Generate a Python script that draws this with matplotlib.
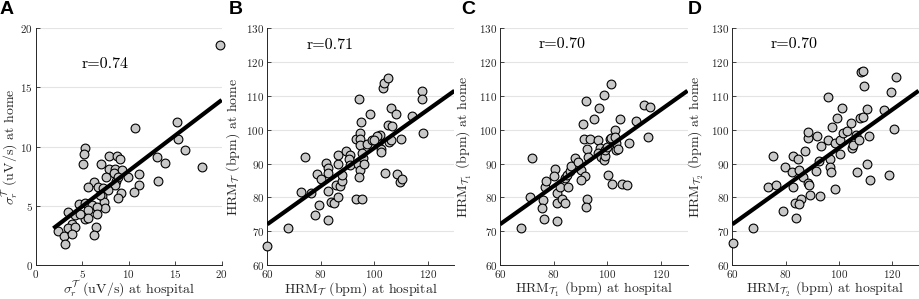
import matplotlib
matplotlib.use("Agg")
import matplotlib.pyplot as plt
import numpy as np

plt.rcParams["font.family"] = "cmr10"
plt.rcParams["mathtext.fontset"] = "cm"
plt.rcParams["axes.unicode_minus"] = False
plt.rcParams["axes.formatter.use_mathtext"] = True

# Panel A: sigma_r^T (uV/s), hospital vs home
a_hosp = [19.8, 10.7, 15.2, 15.3, 16.1, 17.85, 13.0, 13.9, 13.15, 11.1, 11.1, 10.6, 9.9,
          5.3, 5.15, 5.1, 7.0, 7.9, 8.7, 9.05, 7.9, 8.5, 9.25, 8.4, 7.6, 8.6, 8.9, 8.5,
          9.15, 8.9, 6.3, 6.7, 5.6, 7.25, 7.75, 7.15, 7.35, 7.5, 6.95, 4.65, 5.25, 6.0,
          5.65, 6.55, 6.55, 5.25, 5.65, 3.45, 4.25, 4.75, 3.85, 3.5, 4.25, 2.35, 3.0,
          3.15, 3.95, 6.5, 6.3]
a_home = [18.6, 11.6, 12.05, 10.65, 9.7, 8.3, 9.15, 8.6, 7.1, 7.65, 6.75, 6.2, 7.45,
          9.9, 9.35, 8.55, 8.55, 9.25, 9.2, 8.95, 8.1, 8.15, 8.0, 7.75, 7.4, 7.1, 7.4, 6.75,
          6.05, 5.7, 7.0, 6.55, 6.55, 6.5, 6.3, 5.85, 5.35, 4.8, 5.95, 5.15, 5.2, 5.05,
          4.65, 4.9, 4.35, 3.9, 3.95, 4.5, 4.25, 4.35, 3.5, 3.1, 3.25, 2.9, 2.45,
          1.75, 2.6, 3.25, 2.55]

# Panel B: HRM_T (bpm)
b_hosp = [60.0, 67.9, 72.6, 76.3, 74.1, 77.8, 79.5, 78.6, 80.0, 82.0, 82.8, 82.8, 82.8,
          82.7, 83.7, 84.9, 85.7, 86.3, 86.3, 86.6, 87.2, 87.8, 87.8, 89.3, 90.9, 90.6,
          90.9, 93.0, 95.5, 93.0, 94.4, 94.7, 94.7, 94.7, 94.1, 94.7, 94.3, 95.1, 95.7,
          96.3, 95.3, 98.4, 97.4, 99.0, 101.5, 102.3, 102.4, 102.7, 103.3, 103.7, 105.3,
          104.0, 105.3, 106.3, 106.5, 105.4, 106.2, 108.0, 108.5, 109.7, 110.5, 109.9,
          114.3, 118.0, 117.8, 118.3, 100.9, 100.0]
b_home = [65.7, 70.8, 81.5, 81.4, 91.9, 74.8, 77.8, 86.8, 85.3, 90.1, 88.6, 87.3, 81.9,
          73.3, 78.7, 78.2, 83.6, 89.9, 92.4, 80.0, 83.4, 84.7, 86.6, 93.8, 92.5, 91.3,
          89.6, 79.5, 79.5, 97.4, 109.0, 99.0, 97.2, 95.4, 89.8, 88.1, 86.1, 102.4, 91.6,
          89.9, 93.0, 104.7, 95.7, 97.0, 96.0, 98.5, 94.2, 93.5, 112.3, 113.7, 115.4,
          87.1, 101.3, 106.5, 101.1, 96.5, 97.0, 104.6, 86.8, 84.4, 85.3, 97.2,
          104.2, 111.6, 109.0, 98.9, 98.0, 97.0]

# Panel C: HRM_T1 (bpm)
c_hosp = [67.7, 71.1, 72.1, 76.1, 75.8, 76.3, 76.7, 77.2, 80.4, 80.2, 81.4, 81.4, 81.3,
          82.3, 83.3, 84.1, 84.1, 85.4, 85.1, 86.0, 86.4, 87.9, 89.1, 90.4, 91.6, 90.4,
          90.9, 92.1, 91.2, 93.5, 92.6, 92.9, 92.3, 92.1, 95.1, 96.8, 98.7, 101.3, 96.4,
          97.3, 96.6, 97.8, 98.8, 99.1, 99.1, 101.0, 102.8, 103.4, 103.4, 104.9, 100.5,
          101.7, 105.6, 107.3, 108.1, 110.9, 113.8, 115.9, 115.3, 99.8, 101.5, 102.9,
          103.9]
c_home = [70.85, 80.0, 91.5, 79.2, 76.9, 73.7, 83.2, 84.7, 88.5, 86.3, 81.2, 78.2, 73.1,
          83.2, 79.4, 78.4, 85.6, 83.2, 86.6, 87.9, 89.3, 91.6, 90.6, 88.1, 86.3, 85.1,
          101.7, 108.6, 97.3, 97.3, 94.2, 91.9, 79.4, 77.1, 103.3, 106.5, 110.2, 113.4,
          97.0, 94.5, 93.0, 92.0, 91.1, 92.2, 93.9, 97.2, 99.9, 94.0, 96.0, 103.1, 86.6,
          84.0, 84.0, 83.7, 96.2, 102.7, 107.4, 106.8, 97.8, 95.0, 97.5, 97.8,
          94.3]

# Panel D: HRM_T2 (bpm)
d_hosp = [60.1, 67.9, 73.5, 76.3, 75.4, 79.2, 79.8, 82.3, 82.9, 84.8, 84.9, 82.9, 83.6,
          85.7, 85.2, 83.8, 87.2, 86.4, 88.6, 88.8, 89.2, 88.6, 88.6, 91.7, 91.4, 93.0,
          93.3, 92.7, 96.1, 96.1, 96.7, 96.7, 96.9, 97.3, 99.2, 101.1, 98.6, 100.5, 98.7,
          100.5, 101.5, 103.0, 104.8, 105.3, 104.5, 106.6, 107.5, 107.9, 109.0, 106.7,
          108.4, 109.2, 109.6, 110.7, 111.5, 110.7, 111.7, 117.1, 119.6, 119.0, 120.9,
          121.5]
d_home = [66.6, 70.8, 83.2, 83.7, 92.1, 76.1, 89.1, 87.6, 92.1, 91.3, 88.1, 83.0, 78.4,
          79.4, 77.9, 73.8, 93.8, 86.1, 84.2, 83.7, 80.7, 97.7, 99.2, 98.2, 87.9, 80.4,
          95.2, 90.8, 109.8, 97.0, 91.3, 89.1, 87.6, 100.9, 103.6, 106.5, 96.0, 92.8, 82.4,
          97.0, 99.0, 99.6, 94.5, 95.5, 101.9, 98.5, 97.0, 103.4, 103.7, 87.6,
          117.0, 117.5, 112.9, 106.1, 98.2, 89.9, 85.1, 105.9, 111.1, 86.6, 100.1,
          115.5]

# regression lines (slope, intercept, x-span) and correlations
fit_slope = [0.599, 0.564, 0.564, 0.564]
fit_icpt = [1.96, 38.2, 38.2, 38.2]
fit_span = [(1.9, 20), (60, 130), (60, 130), (60, 130)]
r_vals = [0.74, 0.71, 0.70, 0.70]
r_pos = [(0.247, 0.85), (0.21, 0.93), (0.205, 0.934), (0.207, 0.934)]

letters = ["A", "B", "C", "D"]
xlabels = [r"$\sigma_r^{\mathcal{T}}$ (uV/s) at hospital",
           r"HRM$_{\mathcal{T}}$ (bpm) at hospital",
           r"HRM$_{\mathcal{T}_1}$ (bpm) at hospital",
           r"HRM$_{\mathcal{T}_2}$ (bpm) at hospital"]
ylabels = [r"$\sigma_r^{\mathcal{T}}$ (uV/s) at home",
           r"HRM$_{\mathcal{T}}$ (bpm) at home",
           r"HRM$_{\mathcal{T}_1}$ (bpm) at home",
           r"HRM$_{\mathcal{T}_2}$ (bpm) at home"]

xs = [a_hosp, b_hosp, c_hosp, d_hosp]
ys = [a_home, b_home, c_home, d_home]

fig = plt.figure(figsize=(9.2, 2.99), dpi=100)
lefts = [0.0388, 0.2905, 0.5435, 0.7960]
widths = [0.2022, 0.2035, 0.2038, 0.2025]
ylab_x = [-0.138, -0.183, -0.187, -0.19]
letter_x = [0.0, 0.249, 0.501, 0.748]

for i in range(4):
    ax = fig.add_axes([lefts[i], 0.1137, widths[i], 0.7917])
    if i == 0:
        ax.set_xlim(0, 20)
        ax.set_ylim(0, 20)
        ax.set_xticks([0, 5, 10, 15, 20])
        ax.set_yticks([0, 5, 10, 15, 20])
    else:
        ax.set_xlim(60, 130)
        ax.set_ylim(60, 130)
        ax.set_xticks([60, 80, 100, 120])
        ax.set_yticks(np.arange(60, 131, 10))
    ax.yaxis.grid(True, color="#e4e4e4", lw=0.8)
    ax.set_axisbelow(True)
    for s in ["top", "right"]:
        ax.spines[s].set_visible(False)
    for s in ["left", "bottom"]:
        ax.spines[s].set_color("#262626")
        ax.spines[s].set_linewidth(0.7)
    ax.tick_params(direction="in", length=3, width=0.6, color="#262626",
                   labelsize=8, labelcolor="#262626", pad=2)

    ax.scatter(xs[i], ys[i], s=40, facecolor="#c8c8c8", edgecolor="black",
               linewidth=0.8, zorder=3, clip_on=False)
    x0, x1 = fit_span[i]
    lx = np.array([x0, x1])
    ax.plot(lx, fit_slope[i] * lx + fit_icpt[i], color="black", lw=3.0,
            solid_capstyle="butt", zorder=4)

    ax.text(r_pos[i][0], r_pos[i][1], f"r={r_vals[i]:.2f}", transform=ax.transAxes,
            fontsize=11.5, ha="left", va="center")
    ax.set_xlabel(xlabels[i], fontsize=10, color="#262626", va="center")
    ax.xaxis.set_label_coords(0.5, -0.103)
    ax.set_ylabel(ylabels[i], fontsize=10, color="#262626", va="center")
    ax.yaxis.set_label_coords(ylab_x[i], 0.5)

    fig.text(letter_x[i], 0.995, letters[i], fontsize=14, fontweight="bold",
             family="Liberation Sans", ha="left", va="top")

fig.savefig("out.png", dpi=100)
